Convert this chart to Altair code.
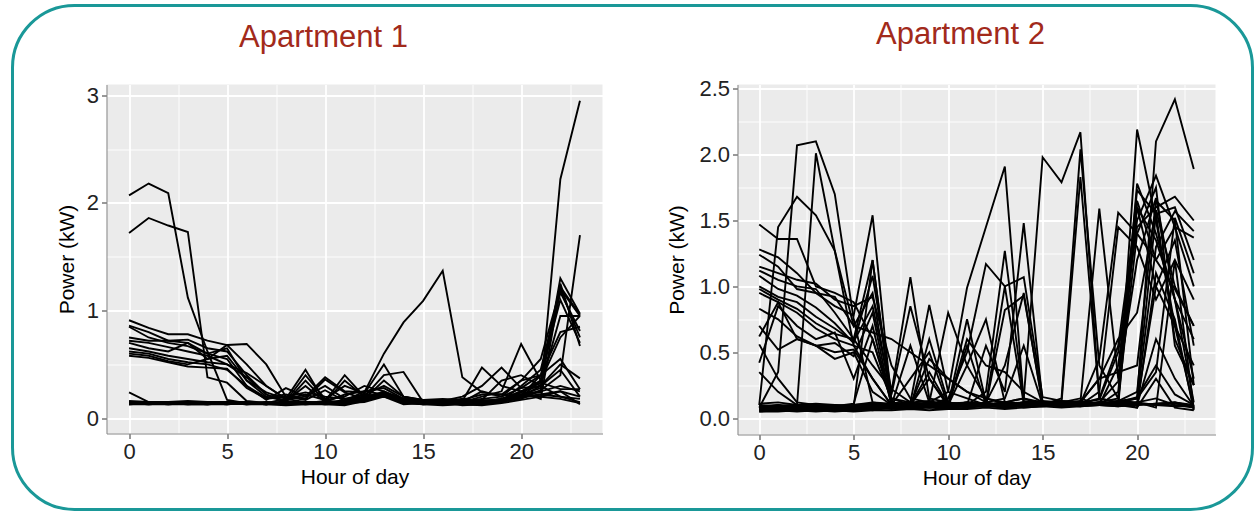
import altair as alt
import pandas as pd

hours = list(range(24))

# Apartment 1: hourly power (kW) per day
a1_d01 = [2.07,2.18,2.09,1.12,0.62,0.17,0.14,0.13,0.15,0.14,0.16,0.15,0.20,0.22,0.17,0.15,0.14,0.16,0.15,0.17,0.20,0.22,0.25,0.20]
a1_d02 = [1.72,1.86,1.79,1.73,0.38,0.33,0.16,0.14,0.18,0.15,0.14,0.17,0.22,0.20,0.16,0.15,0.15,0.14,0.17,0.16,0.22,0.28,1.30,0.97]
a1_d03 = [0.91,0.84,0.78,0.78,0.72,0.68,0.50,0.30,0.18,0.45,0.15,0.22,0.25,0.28,0.18,0.16,0.15,0.18,0.14,0.16,0.30,0.45,1.20,0.95]
a1_d04 = [0.86,0.80,0.72,0.73,0.65,0.62,0.40,0.22,0.15,0.35,0.16,0.40,0.20,0.24,0.18,0.15,0.15,0.17,0.15,0.18,0.25,0.35,1.25,0.67]
a1_d05 = [0.85,0.75,0.70,0.67,0.60,0.65,0.35,0.20,0.16,0.40,0.18,0.30,0.23,0.50,0.20,0.17,0.16,0.15,0.25,0.20,0.28,0.40,0.80,0.85]
a1_d06 = [0.75,0.72,0.72,0.70,0.60,0.55,0.30,0.17,0.28,0.20,0.38,0.25,0.24,0.60,0.89,1.09,1.37,0.38,0.24,0.22,0.35,0.40,0.55,0.27]
a1_d07 = [0.72,0.70,0.66,0.62,0.58,0.50,0.42,0.30,0.18,0.22,0.17,0.20,0.30,0.25,0.18,0.17,0.16,0.20,0.30,0.47,0.28,0.30,0.95,0.95]
a1_d08 = [0.70,0.65,0.62,0.70,0.55,0.68,0.69,0.50,0.20,0.24,0.20,0.18,0.22,0.30,0.20,0.16,0.17,0.15,0.20,0.25,0.69,0.35,1.17,0.81]
a1_d09 = [0.65,0.62,0.58,0.55,0.52,0.50,0.38,0.22,0.16,0.30,0.15,0.35,0.20,0.22,0.17,0.16,0.16,0.16,0.47,0.30,0.25,0.30,0.50,0.37]
a1_d10 = [0.62,0.60,0.55,0.52,0.50,0.45,0.30,0.19,0.22,0.18,0.36,0.24,0.18,0.35,0.20,0.17,0.18,0.17,0.22,0.22,0.20,0.35,0.75,0.95]
a1_d11 = [0.60,0.58,0.53,0.50,0.55,0.58,0.35,0.24,0.18,0.20,0.30,0.18,0.20,0.40,0.43,0.15,0.15,0.17,0.17,0.35,0.40,0.30,0.20,0.15]
a1_d12 = [0.58,0.56,0.52,0.48,0.47,0.46,0.28,0.18,0.20,0.17,0.26,0.16,0.18,0.24,0.17,0.16,0.16,0.16,0.18,0.20,0.35,0.55,1.20,0.75]
a1_d13 = [0.24,0.15,0.14,0.14,0.13,0.14,0.14,0.13,0.14,0.15,0.14,0.16,0.25,0.22,0.15,0.14,0.15,0.14,0.16,0.18,0.22,0.25,0.30,0.25]
a1_d14 = [0.14,0.13,0.14,0.13,0.14,0.13,0.14,0.15,0.13,0.14,0.13,0.14,0.17,0.24,0.16,0.14,0.13,0.14,0.13,0.15,0.19,0.22,0.20,0.18]
a1_d15 = [0.15,0.14,0.15,0.14,0.14,0.14,0.15,0.14,0.15,0.13,0.14,0.15,0.18,0.22,0.15,0.13,0.14,0.13,0.14,0.16,0.20,0.30,0.45,0.20]
a1_d16 = [0.13,0.13,0.13,0.13,0.13,0.14,0.13,0.13,0.12,0.13,0.13,0.12,0.16,0.21,0.14,0.13,0.12,0.13,0.12,0.14,0.17,0.20,0.18,0.14]
a1_d17 = [0.16,0.15,0.15,0.16,0.15,0.15,0.15,0.14,0.14,0.14,0.15,0.14,0.15,0.20,0.13,0.14,0.14,0.15,0.14,0.17,0.25,0.18,1.22,0.96]
a1_d18 = [0.14,0.14,0.13,0.14,0.14,0.14,0.14,0.13,0.16,0.14,0.14,0.13,0.18,0.25,0.15,0.15,0.13,0.14,0.15,0.18,0.22,0.24,2.22,2.95]
a1_d19 = [0.13,0.14,0.14,0.13,0.13,0.13,0.14,0.14,0.13,0.15,0.13,0.14,0.16,0.22,0.14,0.14,0.14,0.13,0.14,0.16,0.18,0.26,0.40,1.70]
a1_d20 = [0.15,0.15,0.14,0.14,0.15,0.14,0.13,0.15,0.14,0.13,0.14,0.16,0.20,0.23,0.18,0.15,0.13,0.14,0.16,0.17,0.22,0.20,0.25,0.13]
a1_d21 = [0.14,0.13,0.14,0.15,0.14,0.13,0.15,0.13,0.15,0.14,0.15,0.13,0.17,0.21,0.15,0.14,0.15,0.12,0.13,0.18,0.21,0.40,1.10,0.70]
a1_d22 = [0.13,0.14,0.13,0.14,0.13,0.15,0.13,0.14,0.14,0.15,0.14,0.15,0.19,0.20,0.16,0.13,0.14,0.14,0.14,0.15,0.24,0.33,0.27,0.27]

# Apartment 2: hourly power (kW) per day
a2_d01 = [0.08,0.35,2.07,2.10,1.70,0.75,0.12,0.10,0.09,0.08,0.10,0.09,0.10,0.12,0.10,0.11,0.10,0.12,0.11,0.13,0.12,0.15,0.10,0.08]
a2_d02 = [0.08,0.09,0.10,2.01,1.27,0.55,0.30,0.10,0.12,0.10,0.08,0.09,0.10,0.11,0.09,0.10,0.12,0.11,0.10,0.09,0.12,0.10,0.11,0.09]
a2_d03 = [0.10,1.45,1.68,1.54,1.27,0.70,0.95,0.12,0.10,0.30,0.09,0.11,0.10,0.12,0.10,0.11,0.09,0.10,0.12,0.28,1.20,1.67,0.90,0.60]
a2_d04 = [1.47,1.36,1.36,1.00,0.95,0.88,0.60,0.15,0.12,0.10,0.09,0.10,0.11,0.09,0.10,0.10,0.12,0.11,0.10,0.13,0.15,0.35,1.52,1.10]
a2_d05 = [1.28,1.22,1.10,0.95,0.85,0.78,1.54,0.12,0.10,0.09,0.10,0.11,0.10,0.09,0.10,0.12,0.11,0.10,0.12,0.10,1.60,1.35,0.90,0.30]
a2_d06 = [1.24,1.15,0.98,0.95,0.92,0.70,0.65,0.60,0.50,0.40,0.30,0.20,0.15,0.12,0.10,0.12,0.10,0.11,0.12,0.15,1.40,1.75,0.55,0.25]
a2_d07 = [1.15,1.10,1.05,1.02,0.90,0.85,0.92,0.40,0.15,0.12,0.10,0.09,0.10,0.12,0.11,0.10,0.12,0.11,0.45,1.56,1.40,1.20,1.45,1.37]
a2_d08 = [1.12,1.05,1.00,0.98,0.80,0.60,1.20,0.10,0.12,0.10,0.11,0.12,0.10,0.11,0.09,0.10,0.11,0.12,1.59,0.30,1.73,1.55,1.60,1.20]
a2_d09 = [1.08,0.98,0.93,0.84,0.72,0.57,1.08,0.20,1.07,0.15,0.12,0.10,0.11,0.10,0.12,0.10,0.11,0.10,0.12,0.10,2.19,1.50,0.70,0.40]
a2_d10 = [1.00,0.92,0.88,0.77,0.68,0.58,0.85,0.18,0.85,0.30,0.10,0.75,0.12,0.10,0.11,0.12,0.10,0.09,0.10,0.40,1.50,1.84,1.45,1.00]
a2_d11 = [0.98,0.90,0.83,0.72,0.64,0.60,0.40,0.22,0.12,0.86,0.20,0.15,0.10,0.12,0.10,0.11,0.10,0.12,0.14,0.50,1.45,1.60,1.68,1.50]
a2_d12 = [0.95,0.88,0.80,0.68,0.60,0.55,0.50,0.15,0.10,0.12,0.80,0.40,0.15,0.11,0.10,0.12,0.11,0.10,0.20,1.45,1.30,0.90,1.20,0.90]
a2_d13 = [0.83,0.75,0.62,0.55,0.57,0.47,0.80,0.10,0.55,0.12,0.10,0.40,0.75,0.12,0.15,0.10,0.12,0.11,0.15,0.55,1.60,1.00,1.35,0.55]
a2_d14 = [0.70,0.52,0.60,0.55,0.50,0.52,0.30,0.10,0.12,0.13,0.10,0.12,0.10,0.11,0.12,0.11,0.13,0.12,0.30,0.60,0.80,1.58,1.00,0.70]
a2_d15 = [0.56,0.30,0.12,0.10,0.09,0.11,0.60,0.12,0.10,0.35,0.10,0.12,0.11,1.00,0.11,0.10,0.12,0.11,0.10,0.12,0.15,1.30,1.57,1.42]
a2_d16 = [0.35,0.20,0.10,0.09,0.10,0.09,1.20,0.12,0.10,0.12,0.11,0.10,0.55,0.20,1.48,0.12,0.11,0.12,0.10,0.11,0.12,1.00,0.70,0.08]
a2_d17 = [0.10,0.09,0.10,0.09,0.08,0.10,0.12,0.11,0.10,0.12,0.20,0.99,1.45,1.91,0.13,0.11,0.12,0.13,0.10,0.09,0.10,0.11,0.12,0.10]
a2_d18 = [0.09,0.10,0.09,0.10,0.09,0.10,0.11,0.10,0.12,0.10,0.15,0.50,1.17,1.00,1.07,0.16,0.13,0.12,0.10,0.12,0.11,0.10,0.09,0.10]
a2_d19 = [0.08,0.09,0.08,0.09,0.08,0.09,0.10,0.09,0.10,0.11,0.12,0.10,0.20,1.27,0.15,0.12,0.10,0.11,0.12,0.10,0.11,0.10,0.12,0.08]
a2_d20 = [0.07,0.08,0.07,0.08,0.07,0.08,0.09,0.08,0.09,0.10,0.09,0.11,0.10,0.12,0.15,1.98,1.79,2.17,0.15,0.12,0.10,0.11,0.12,0.09]
a2_d21 = [0.09,0.07,0.10,0.08,0.09,0.07,0.10,0.09,0.11,0.09,0.10,0.12,0.11,0.10,0.12,0.10,0.15,2.04,0.40,0.15,1.78,1.40,0.90,0.12]
a2_d22 = [0.06,0.07,0.06,0.07,0.06,0.07,0.08,0.07,0.08,0.09,0.08,0.09,0.10,0.09,0.10,0.11,0.12,1.83,0.15,0.12,0.15,2.10,2.42,1.89]
a2_d23 = [0.05,0.06,0.05,0.06,0.05,0.06,0.07,0.08,0.07,0.08,0.07,0.08,0.09,0.08,0.09,0.10,0.11,0.12,0.10,0.13,0.20,1.55,0.60,0.25]
a2_d24 = [0.08,0.10,0.07,0.09,0.08,0.07,0.09,0.10,0.08,0.60,0.12,0.10,0.12,0.40,0.95,0.10,0.09,0.10,0.11,0.10,0.12,0.08,1.20,0.07]
a2_d25 = [0.07,0.06,0.08,0.06,0.07,0.08,0.07,0.09,0.10,0.08,0.09,0.55,0.10,0.82,0.93,0.12,0.10,0.11,0.12,0.10,0.08,1.10,0.75,0.06]
a2_d26 = [0.06,0.08,0.06,0.08,0.06,0.08,0.06,0.08,0.07,0.10,0.08,0.10,0.09,0.11,0.08,0.09,0.10,0.09,0.12,0.12,0.10,0.60,0.30,0.09]
a2_d27 = [0.05,0.05,0.06,0.05,0.06,0.05,0.06,0.06,0.07,0.06,0.07,0.07,0.08,0.07,0.08,0.09,0.08,0.09,0.10,0.12,0.08,0.30,0.08,0.06]
a2_d28 = [0.11,0.12,0.10,0.11,0.10,0.09,0.11,0.10,0.12,0.10,0.11,0.10,0.11,0.10,0.12,0.13,0.12,0.15,0.10,0.12,0.16,0.40,0.18,0.10]
a2_d29 = [0.62,0.88,0.60,0.55,0.45,0.50,0.20,0.10,0.30,0.50,0.10,0.60,0.40,0.35,0.20,0.12,0.10,0.12,0.10,0.20,1.65,1.20,0.98,0.70]
a2_d30 = [0.42,0.85,0.70,0.60,0.65,0.30,0.70,0.10,0.10,0.45,0.30,0.20,0.12,0.15,0.55,0.10,0.11,0.12,0.30,0.35,0.40,1.65,1.50,0.25]

apt1_days = [a1_d01,a1_d02,a1_d03,a1_d04,a1_d05,a1_d06,a1_d07,a1_d08,a1_d09,a1_d10,a1_d11,
             a1_d12,a1_d13,a1_d14,a1_d15,a1_d16,a1_d17,a1_d18,a1_d19,a1_d20,a1_d21,a1_d22]
apt2_days = [a2_d01,a2_d02,a2_d03,a2_d04,a2_d05,a2_d06,a2_d07,a2_d08,a2_d09,a2_d10,a2_d11,a2_d12,
             a2_d13,a2_d14,a2_d15,a2_d16,a2_d17,a2_d18,a2_d19,a2_d20,a2_d21,a2_d22,a2_d23,a2_d24,
             a2_d25,a2_d26,a2_d27,a2_d28,a2_d29,a2_d30]

panel_titles = ["Apartment 1", "Apartment 2"]
x_major = [0, 5, 10, 15, 20]
x_minor = [2.5, 7.5, 12.5, 17.5, 22.5]
y1_major = [0, 1, 2, 3]
y1_minor = [0.5, 1.5, 2.5]
y2_major = [0.0, 0.5, 1.0, 1.5, 2.0, 2.5]
y2_minor = [0.25, 0.75, 1.25, 1.75, 2.25]


def to_long(days):
    rows = []
    for d, vals in enumerate(days):
        for h, v in zip(hours, vals):
            rows.append({"day": d, "hour": h, "power": v})
    return pd.DataFrame(rows)


FONT = "Liberation Sans"
TITLE_RED = "#A22A1B"
TEAL = "#1A9898"


def panel(days, ydom, ymaj, ymin, yfmt, w, h, title, tx, ty, ytp, border=False):
    df = to_long(days)
    xs = alt.Scale(domain=[-1.15, 24.15], nice=False, zero=False)
    ys = alt.Scale(domain=ydom, nice=False, zero=False)
    minor = alt.Chart(df).mark_line(strokeOpacity=0).encode(
        x=alt.X("hour:Q", scale=xs, axis=alt.Axis(orient="bottom", values=x_minor, grid=True,
                gridColor="white", gridWidth=0.9, labels=False, ticks=False, domain=False, title=None)),
        y=alt.Y("power:Q", scale=ys, axis=alt.Axis(orient="left", values=ymin, grid=True,
                gridColor="white", gridWidth=0.9, labels=False, ticks=False, domain=False, title=None)),
        detail="day:N",
    )
    lines = alt.Chart(df).mark_line(color="black", strokeWidth=1.9).encode(
        x=alt.X("hour:Q", scale=xs, axis=alt.Axis(orient="bottom", values=x_major, format="d",
                title="Hour of day", grid=True, gridColor="white", gridWidth=1.8,
                labelFlush=False, labelOverlap=False)),
        y=alt.Y("power:Q", scale=ys, axis=alt.Axis(orient="left", values=ymaj, format=yfmt,
                title="Power (kW)", grid=True, gridColor="white", gridWidth=1.8,
                labelOverlap=False, titlePadding=ytp)),
        detail="day:N",
    )
    ttl = alt.Chart(pd.DataFrame({"t": [title]})).mark_text(
        font=FONT, fontSize=31, color=TITLE_RED, align="center", baseline="alphabetic"
    ).encode(text="t:N", x=alt.value(tx), y=alt.value(ty))
    layers = [minor, lines, ttl]
    if border:
        rect = alt.Chart(pd.DataFrame({"k": [0]})).mark_rect(
            fill="white", fillOpacity=0, stroke=TEAL, strokeWidth=3, cornerRadius=62
        ).encode(x=alt.value(-94), x2=alt.value(1146), y=alt.value(-79), y2=alt.value(425))
        layers.append(rect)
    return alt.layer(*layers).resolve_axis(x="independent", y="independent").properties(
        width=w, height=h)


p1 = panel(apt1_days, [-0.142, 3.10], y1_major, y1_minor, "d", 496, 349,
           panel_titles[0], 217, -37.5, 9, border=True)
p2 = panel(apt2_days, [-0.124, 2.532], y2_major, y2_minor, ".1f", 478, 350,
           panel_titles[1], 223, -41, 11)

chart = alt.hconcat(p1, p2, spacing=135, bounds="flush").properties(
    padding={"left": 10.5, "top": 3.5, "right": 0, "bottom": 0},
    background="white",
).configure_view(fill="#EBEBEB", strokeWidth=0).configure_axis(
    labelFont=FONT, titleFont=FONT, labelFontSize=22, titleFontSize=21,
    labelColor="#222222", titleColor="black", titleFontWeight="normal",
    tickColor="#333333", tickSize=5, tickWidth=1, labelPadding=3,
)

chart.save("out.html", embed_options={"renderer": "svg", "actions": False})
